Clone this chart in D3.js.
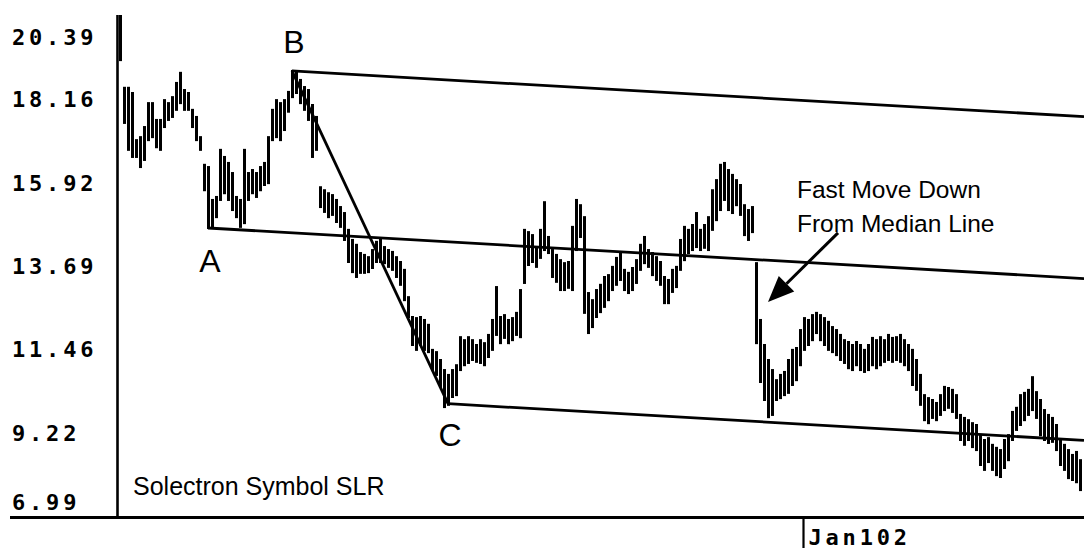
<!DOCTYPE html>
<html>
<head>
<meta charset="utf-8">
<script src="https://cdn.jsdelivr.net/npm/d3@7"></script>
<style>
  html, body { margin: 0; padding: 0; background: #fff; }
  svg { display: block; }
</style>
</head>
<body>
<svg id="chart" width="1084" height="548"></svg>
<script>
// Daily high / low prices, one entry per trading day
const highs = [
  20.39,18.47,18.47,18.33,17.07,17.15,17.42,18.06,18.06,17.61,
  17.61,18.14,18.06,18.22,18.60,18.87,18.41,18.33,17.88,17.69,
  17.15,16.41,16.35,15.47,15.55,16.81,16.62,16.46,16.19,15.55,
  15.47,16.81,16.19,16.27,16.19,16.35,16.46,17.15,17.88,18.14,
  18.06,18.14,18.36,18.92,18.87,18.68,18.49,18.41,18.01,17.69,
  15.81,15.73,15.65,15.60,15.47,15.28,15.12,14.67,14.40,14.27,
  14.05,14.00,13.94,14.13,14.35,14.40,14.21,14.13,14.08,13.94,
  13.81,13.60,12.87,12.34,12.31,12.34,12.26,12.13,11.46,11.40,
  11.19,10.92,10.79,10.92,11.05,11.80,11.72,11.80,11.72,11.59,
  11.72,11.64,11.86,12.26,13.14,12.34,12.39,12.26,12.31,12.45,
  13.06,14.67,14.61,14.53,14.21,14.67,15.41,14.48,14.13,14.00,
  13.86,13.78,13.81,14.75,15.47,15.33,15.01,12.98,12.79,13.06,
  13.20,13.41,13.46,13.68,13.92,14.05,13.60,13.52,13.65,13.86,
  14.27,14.48,14.13,14.05,13.94,13.81,13.41,13.33,13.60,13.68,
  14.40,14.75,14.67,14.80,15.12,14.67,14.80,15.01,15.73,16.00,
  16.41,16.46,16.27,16.14,16.00,15.87,15.33,15.20,15.28,13.78,
  12.26,11.59,11.19,10.92,10.65,10.79,10.87,11.19,11.46,11.51,
  11.99,12.31,12.26,12.39,12.45,12.39,12.31,12.21,12.07,11.99,
  11.86,11.72,11.67,11.59,11.67,11.59,11.46,11.59,11.78,11.72,
  11.80,11.72,11.86,11.78,11.80,11.86,11.72,11.59,11.46,11.19,
  10.79,10.25,10.17,10.12,10.04,10.25,10.47,10.44,10.39,10.25,
  9.72,9.64,9.58,9.50,9.45,9.18,9.05,9.10,8.92,8.84,
  8.78,9.05,9.18,9.80,9.91,10.25,10.31,10.39,10.73,10.33,
  10.12,9.85,9.72,9.64,9.45,9.05,8.92,8.78,8.65,8.73,
  8.51
];
const lows = [
  19.21,17.53,16.81,16.62,16.62,16.35,16.54,17.07,17.15,16.88,
  16.81,17.42,17.61,17.69,17.88,18.06,17.88,17.88,17.42,17.07,
  16.81,15.73,14.72,14.75,15.01,15.47,15.65,15.47,15.20,15.01,
  14.75,14.85,15.47,15.65,15.55,15.73,15.87,15.92,17.07,17.15,
  17.07,17.34,17.83,18.22,18.33,18.06,17.88,17.61,16.62,16.81,
  15.28,15.15,15.01,15.07,14.88,14.75,14.40,13.81,13.54,13.41,
  13.52,13.52,13.54,13.65,13.81,13.81,13.78,13.68,13.60,13.41,
  13.20,12.79,12.34,11.59,11.46,11.59,11.46,11.40,10.92,10.79,
  10.47,9.93,9.99,10.20,10.25,10.92,11.05,11.11,11.19,11.14,
  11.11,11.05,11.27,11.46,11.86,11.64,11.78,11.64,11.72,11.86,
  11.80,13.25,13.73,13.81,13.68,13.92,14.13,14.05,13.41,13.28,
  13.06,13.06,13.12,13.06,14.13,14.48,12.45,11.91,12.07,12.34,
  12.47,12.61,12.79,13.06,13.20,13.33,13.06,12.98,13.06,13.25,
  13.60,13.78,13.68,13.46,13.33,13.20,12.71,12.71,13.01,13.14,
  13.60,13.86,14.05,14.13,14.21,14.13,14.19,14.13,14.67,14.93,
  15.20,15.47,15.20,15.12,15.33,15.07,14.53,14.40,14.61,11.64,
  10.60,10.12,9.66,9.72,10.12,10.17,10.25,10.31,10.52,10.65,
  11.05,11.46,11.59,11.72,11.91,11.72,11.59,11.46,11.40,11.32,
  11.19,11.11,10.97,10.92,11.05,10.92,10.87,10.92,11.05,10.97,
  11.05,11.14,11.19,11.14,11.19,11.14,11.05,10.92,10.52,10.39,
  9.99,9.58,9.50,9.64,9.58,9.72,9.85,9.91,9.80,9.64,
  9.05,8.92,9.05,8.86,8.78,8.38,8.25,8.46,8.25,8.11,
  8.06,8.30,8.51,9.05,9.32,9.45,9.58,9.72,9.85,9.64,
  9.18,9.05,8.97,9.00,8.78,8.38,8.25,8.03,7.98,7.92,
  7.71
];

// Price axis labels
const priceTicks = [20.39, 18.16, 15.92, 13.69, 11.46, 9.22, 6.99];

// Date axis marker (bar index and label)
const dateTickIndex = [171];
const dateTickLabels = ["Jan102"];

// Pitchfork pivots A, B, C (bar index, price)
const pivotNames = ["A", "B", "C"];
const pivotIndex = [22, 43, 82];
const pivotPrice = [14.72, 18.92, 10.02];

// Annotation arrow: tail then head (bar index, price)
const arrowIndex = [179.5, 162];
const arrowPrice = [14.59, 12.74];
const arrowNote = ["Fast Move Down", "From Median Line"];

const title = "Solectron Symbol SLR";

// ---------------------------------------------------------------
const W = 1084, H = 548;
const svg = d3.select("#chart");

const x = d3.scaleLinear().domain([0, highs.length - 1]).range([120, 1080]);
const y = d3.scaleLinear().domain([6.99, 20.39]).range([517, 16]);

const ink = "#000";

// Price bars
svg.append("g")
  .selectAll("line")
  .data(highs.map((h, i) => ({ i, h, l: lows[i] })))
  .join("line")
  .attr("x1", d => x(d.i) + 0.5).attr("x2", d => x(d.i) + 0.5)
  .attr("y1", d => y(d.h) - 1).attr("y2", d => y(d.l) + 1)
  .attr("stroke", ink)
  .attr("stroke-width", 3);

// Andrews pitchfork
const A = { i: pivotIndex[0], p: pivotPrice[0] };
const B = { i: pivotIndex[1], p: pivotPrice[1] };
const C = { i: pivotIndex[2], p: pivotPrice[2] };
const mid = { i: (B.i + C.i) / 2, p: (B.p + C.p) / 2 };
const slope = (mid.p - A.p) / (mid.i - A.i);
const endI = x.invert(W);
const ray = s => [[x(s.i), y(s.p)], [x(endI), y(s.p + slope * (endI - s.i))]];

const fork = svg.append("g")
  .attr("fill", "none")
  .attr("stroke", ink)
  .attr("stroke-width", 2.8);

[ray(A), ray(B), ray(C), [[x(B.i), y(B.p)], [x(C.i), y(C.p)]]].forEach(seg => {
  fork.append("path").attr("d", d3.line()(seg));
});

// Pivot letters
const labelDy = [44, -18, 42];
svg.append("g")
  .selectAll("text")
  .data(pivotNames)
  .join("text")
  .attr("x", (d, k) => x(pivotIndex[k]) + 2)
  .attr("y", (d, k) => y(pivotPrice[k]) + labelDy[k])
  .attr("text-anchor", "middle")
  .attr("font-family", "'Liberation Sans', Arial, sans-serif")
  .attr("font-size", 32)
  .attr("fill", ink)
  .text(d => d);

// Arrow with filled head
const tail = [x(arrowIndex[0]), y(arrowPrice[0])];
const tip = [x(arrowIndex[1]), y(arrowPrice[1])];
const dx = tip[0] - tail[0], dy = tip[1] - tail[1];
const len = Math.hypot(dx, dy);
const ux = dx / len, uy = dy / len;
const headLen = 26, headHalf = 11;
const base = [tip[0] - ux * headLen, tip[1] - uy * headLen];
svg.append("line")
  .attr("x1", tail[0]).attr("y1", tail[1])
  .attr("x2", base[0]).attr("y2", base[1])
  .attr("stroke", ink).attr("stroke-width", 3);
svg.append("path")
  .attr("d", d3.line()([
    tip,
    [base[0] - uy * headHalf, base[1] + ux * headHalf],
    [base[0] + uy * headHalf, base[1] - ux * headHalf]
  ]) + "Z")
  .attr("fill", ink);

svg.append("g")
  .selectAll("text")
  .data(arrowNote)
  .join("text")
  .attr("x", tail[0] - 41)
  .attr("y", (d, k) => tail[1] - 35 + k * 34)
  .attr("font-family", "'Liberation Sans', Arial, sans-serif")
  .attr("font-size", 24.5)
  .attr("fill", ink)
  .text(d => d);

// Title inside plot
svg.append("text")
  .attr("x", 133).attr("y", 495)
  .attr("font-family", "'Liberation Sans', Arial, sans-serif")
  .attr("font-size", 25)
  .attr("fill", ink)
  .text(title);

// Axes
svg.append("line")
  .attr("x1", 117.5).attr("x2", 117.5)
  .attr("y1", y(20.39) - 1).attr("y2", y(6.99))
  .attr("stroke", ink).attr("stroke-width", 2.6);
svg.append("line")
  .attr("x1", 10).attr("x2", W)
  .attr("y1", y(6.99) + 0.5).attr("y2", y(6.99) + 0.5)
  .attr("stroke", ink).attr("stroke-width", 3);

const axisFont = "'DejaVu Sans Mono', 'Liberation Mono', monospace";
svg.append("g")
  .selectAll("text")
  .data(priceTicks)
  .join("text")
  .attr("x", 12)
  .attr("y", d => Math.max(37, Math.min(502, y(d))))
  .attr("dominant-baseline", "central")
  .attr("font-family", axisFont)
  .attr("font-weight", "bold")
  .attr("font-size", 22)
  .attr("letter-spacing", 3.8)
  .attr("fill", ink)
  .text(d => d.toFixed(2));

const dateG = svg.append("g");
dateTickIndex.forEach((di, k) => {
  const px = Math.round(x(di)) - 0.5;
  dateG.append("line")
    .attr("x1", px).attr("x2", px)
    .attr("y1", y(6.99)).attr("y2", H)
    .attr("stroke", ink).attr("stroke-width", 2.2);
  dateG.append("text")
    .attr("x", px + 5).attr("y", 537)
    .attr("dominant-baseline", "central")
    .attr("font-family", axisFont)
    .attr("font-weight", "bold")
    .attr("font-size", 22)
    .attr("letter-spacing", 3.8)
    .attr("fill", ink)
    .text(dateTickLabels[k]);
});
</script>
</body>
</html>
